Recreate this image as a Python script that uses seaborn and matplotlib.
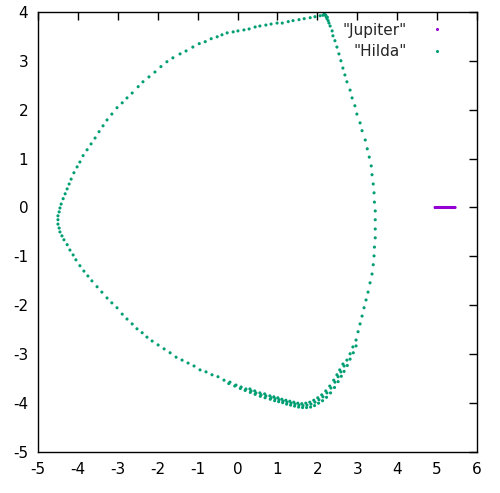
import numpy as np
import pandas as pd
import matplotlib
matplotlib.use("Agg")
import matplotlib.pyplot as plt
import seaborn as sns

# Jupiter (rotating frame): swings between perihelion and aphelion on the x axis
jupiter_x = [4.95, 4.97, 4.99, 5.01, 5.03, 5.05, 5.07, 5.09, 5.11, 5.13, 5.15, 5.17, 5.19,
             5.21, 5.23, 5.25, 5.27, 5.29, 5.31, 5.33, 5.35, 5.37, 5.39, 5.41, 5.43, 5.45]
jupiter_y = [0.0, 0.0, 0.0, 0.0, 0.0, 0.0, 0.0, 0.0, 0.0, 0.0, 0.0, 0.0, 0.0,
             0.0, 0.0, 0.0, 0.0, 0.0, 0.0, 0.0, 0.0, 0.0, 0.0, 0.0, 0.0, 0.0]

# Hilda: main lap (top vertex -> right side -> bottom -> left vertex -> top arc)
hilda_x = [2.19, 2.22, 2.24, 2.27, 2.29, 2.32, 2.37, 2.39, 2.44, 2.49, 2.54, 2.59, 2.64, 2.69,
           2.74, 2.82, 2.87, 2.94, 2.99, 3.07, 3.12, 3.20, 3.25, 3.30, 3.35, 3.37, 3.40, 3.42,
           3.43, 3.45, 3.45, 3.45, 3.45, 3.43, 3.42, 3.40, 3.37, 3.32, 3.27, 3.22, 3.17, 3.12,
           3.07, 3.02, 2.97, 2.89, 2.82, 2.74, 2.67, 2.59, 2.52, 2.44, 2.34, 2.24, 2.14, 2.04,
           1.94, 1.84, 1.74, 1.64, 1.54, 1.44, 1.34, 1.24, 1.14, 1.04, 0.94, 0.84, 0.71, 0.59,
           0.46, 0.34, 0.21, 0.09, -0.04, -0.19, -0.34, -0.49, -0.64, -0.79, -0.94, -1.09, -1.24,
           -1.39, -1.54, -1.69, -1.84, -1.99, -2.14, -2.27, -2.39, -2.52, -2.64, -2.77, -2.89,
           -3.02, -3.15, -3.27, -3.40, -3.52, -3.65, -3.75, -3.85, -3.95, -4.05, -4.12, -4.20,
           -4.27, -4.35, -4.40, -4.45, -4.47, -4.50, -4.50, -4.50, -4.47, -4.45, -4.42, -4.37,
           -4.32, -4.27, -4.22, -4.17, -4.10, -4.02, -3.95, -3.87, -3.77, -3.67, -3.57, -3.47,
           -3.37, -3.27, -3.15, -3.02, -2.89, -2.77, -2.64, -2.49, -2.37, -2.22, -2.07, -1.92,
           -1.77, -1.62, -1.44, -1.29, -1.12, -0.96, -0.81, -0.66, -0.51, -0.39, -0.26, -0.11,
           0.01, 0.16, 0.29, 0.44, 0.56, 0.71, 0.84, 0.99, 1.12, 1.27, 1.39, 1.54, 1.67, 1.82,
           1.94, 2.07, 2.14, 2.17, 2.21, 2.25]
hilda_y = [3.94, 3.90, 3.86, 3.82, 3.77, 3.71, 3.61, 3.51, 3.41, 3.28, 3.14, 3.00, 2.85, 2.71,
           2.57, 2.40, 2.24, 2.08, 1.91, 1.73, 1.57, 1.38, 1.20, 1.03, 0.85, 0.67, 0.48, 0.30,
           0.11, -0.07, -0.25, -0.44, -0.62, -0.81, -0.99, -1.17, -1.36, -1.54, -1.73, -1.89,
           -2.05, -2.22, -2.38, -2.54, -2.71, -2.85, -2.99, -3.12, -3.24, -3.36, -3.46, -3.57,
           -3.69, -3.79, -3.87, -3.93, -3.98, -4.02, -4.04, -4.05, -4.04, -4.02, -4.00, -3.98,
           -3.96, -3.93, -3.91, -3.89, -3.85, -3.83, -3.79, -3.75, -3.71, -3.67, -3.63, -3.57,
           -3.53, -3.46, -3.42, -3.36, -3.32, -3.24, -3.18, -3.12, -3.06, -2.97, -2.89, -2.81,
           -2.73, -2.65, -2.56, -2.48, -2.38, -2.28, -2.18, -2.05, -1.95, -1.85, -1.73, -1.62,
           -1.50, -1.40, -1.30, -1.19, -1.07, -0.97, -0.87, -0.76, -0.66, -0.58, -0.50, -0.42,
           -0.34, -0.25, -0.17, -0.09, -0.01, 0.07, 0.18, 0.28, 0.38, 0.48, 0.58, 0.71, 0.83,
           0.93, 1.06, 1.18, 1.30, 1.42, 1.55, 1.67, 1.79, 1.91, 2.04, 2.14, 2.24, 2.34, 2.47,
           2.57, 2.67, 2.77, 2.88, 2.98, 3.06, 3.14, 3.20, 3.28, 3.35, 3.39, 3.45, 3.49, 3.53,
           3.57, 3.59, 3.61, 3.63, 3.65, 3.69, 3.71, 3.73, 3.75, 3.77, 3.77, 3.80, 3.82, 3.84,
           3.86, 3.88, 3.90, 3.92, 3.93, 3.95, 3.93, 3.89]

# Hilda: later laps running just outside / inside the first one near the bottom vertex
hilda_x2 = [-0.22, -0.07, 0.07, 0.19, 0.32, 0.44, 0.57, 0.69, 0.82, 0.93, 1.03, 1.13, 1.23,
            1.33, 1.43, 1.53, 1.63, 1.73, 1.83, 1.93, 2.03, 2.13, 2.23, 2.33, 2.43, 2.52, 2.60,
            2.67, 2.75, 2.82, 2.90, 2.97]
hilda_y2 = [-3.60, -3.65, -3.70, -3.74, -3.78, -3.82, -3.86, -3.89, -3.92, -3.95, -3.97, -3.99,
            -4.02, -4.04, -4.06, -4.08, -4.09, -4.09, -4.08, -4.05, -4.00, -3.95, -3.88, -3.79,
            -3.68, -3.56, -3.45, -3.35, -3.23, -3.10, -2.97, -2.83]
hilda_x3 = [0.31, 0.43, 0.56, 0.68, 0.81, 0.91, 1.01, 1.11, 1.21, 1.31, 1.41, 1.51, 1.61, 1.71,
            1.81, 1.91, 2.01, 2.11, 2.21, 2.31, 2.41, 2.49, 2.56, 2.64]
hilda_y3 = [-3.71, -3.75, -3.79, -3.81, -3.85, -3.87, -3.89, -3.92, -3.94, -3.96, -3.98, -4.00,
            -4.01, -4.00, -3.98, -3.94, -3.89, -3.83, -3.75, -3.65, -3.53, -3.42, -3.32, -3.20]

jup = pd.DataFrame({"x": jupiter_x, "y": jupiter_y, "body": '"Jupiter"'})
hil = pd.DataFrame({"x": hilda_x + hilda_x2 + hilda_x3,
                    "y": hilda_y + hilda_y2 + hilda_y3, "body": '"Hilda"'})
df = pd.concat([jup, hil], ignore_index=True)

sns.set_style("white")
plt.rcParams['font.family'] = ['DejaVu Sans']
plt.rcParams['axes.unicode_minus'] = False

fig = plt.figure(figsize=(5.0, 4.93), dpi=100)
ax = fig.add_axes([0.076, 0.083, 0.878, 0.893])

sns.scatterplot(data=df, x="x", y="y", hue="body",
                palette={'"Jupiter"': "#9400d3", '"Hilda"': "#009e73"},
                s=5, linewidth=0, ax=ax)

ax.set_xlim(-5, 6)
ax.set_ylim(-5, 4)
ax.set_xticks(range(-5, 7))
ax.set_yticks(range(-5, 5))
ax.set_xlabel("")
ax.set_ylabel("")
ax.tick_params(direction="in", length=6, width=1, top=True, right=True,
               labelsize=11, pad=7, colors="black")
for sp in ax.spines.values():
    sp.set_color("black")
    sp.set_linewidth(1)

ax.legend(loc="upper right", bbox_to_anchor=(0.927, 0.975), frameon=False,
          markerfirst=False, handlelength=1.0, handletextpad=1.5,
          borderpad=0, borderaxespad=0, labelspacing=0.4, fontsize=11,
          markerscale=1.0)

plt.savefig("out.png", dpi=100)
